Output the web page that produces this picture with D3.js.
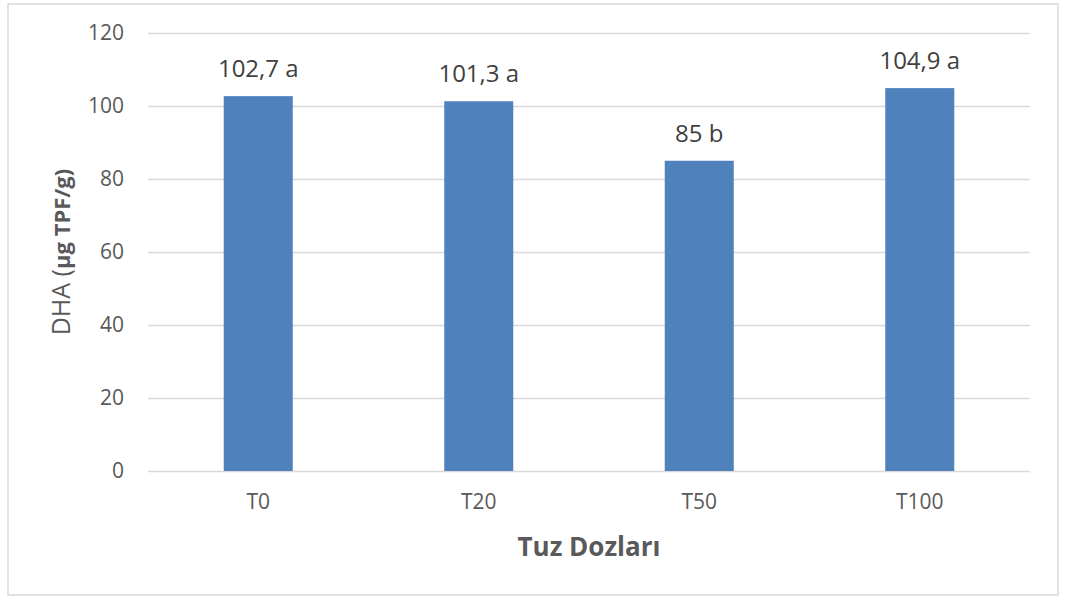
<!DOCTYPE html>
<html>
<head>
<meta charset="utf-8">
<script src="https://cdn.jsdelivr.net/npm/d3@7"></script>
<style>
    body { margin: 0; background: #fff; }
    svg { display: block; font-family: 'Open Sans', sans-serif; }
</style>
</head>
<body>
<div id="chart"></div>
<script>
// data
const categories = ['T0', 'T20', 'T50', 'T100'];
const values = [102.7, 101.3, 85, 104.9];
const letters = ['a', 'a', 'b', 'a'];
const yTicks = [0, 20, 40, 60, 80, 100, 120];

const W = 1070;
const H = 597;
const margin = {t:33, r:40, b:126, l:148};

const svg = d3.select('#chart')
    .append('svg')
    .attr('width', W)
    .attr('height', H);

// outer frame
svg.append('rect')
    .attr('x', 8)
    .attr('y', 4)
    .attr('width', 1050)
    .attr('height', 591)
    .attr('fill', '#fff')
    .attr('stroke', '#d9d9d9')
    .attr('stroke-width', 1.5);

const x = d3.scaleBand()
    .domain(categories)
    .range([margin.l, W - margin.r])
    .paddingInner(0.687)
    .paddingOuter(0.3435);

const y = d3.scaleLinear()
    .domain([0, 120])
    .range([H - margin.b, margin.t]);

// gridlines + y tick labels
const yAxis = svg.append('g')
    .attr('transform', `translate(${margin.l},0)`)
    .call(d3.axisLeft(y)
        .tickValues(yTicks)
        .tickSize(-(W - margin.r - margin.l))
        .tickPadding(24));
yAxis.select('.domain').remove();
yAxis.selectAll('line')
    .attr('stroke', '#d9d9d9')
    .attr('stroke-width', 1.5);
yAxis.selectAll('text')
    .attr('fill', '#595959')
    .style('font-size', '21px')
    .style('font-family', "'Open Sans', sans-serif");

// bars
svg.append('g')
    .selectAll('rect')
    .data(values)
    .join('rect')
    .attr('x', (d, i) => x(categories[i]))
    .attr('y', d => y(d))
    .attr('width', x.bandwidth())
    .attr('height', d => y(0) - y(d))
    .attr('fill', '#4f81bd');

// value labels
svg.append('g')
    .selectAll('text')
    .data(values)
    .join('text')
    .attr('x', (d, i) => x(categories[i]) + x.bandwidth() / 2)
    .attr('y', d => y(d) - 19)
    .attr('text-anchor', 'middle')
    .attr('fill', '#404040')
    .style('font-size', '24px')
    .text((d, i) => String(d).replace('.', ',') + ' ' + letters[i]);

// x tick labels
const xAxis = svg.append('g')
    .attr('transform', `translate(0,${y(0)})`)
    .call(d3.axisBottom(x).tickSize(0).tickPadding(23));
xAxis.select('.domain').remove();
xAxis.selectAll('text')
    .attr('fill', '#595959')
    .style('font-size', '21px')
    .style('font-family', "'Open Sans', sans-serif");

// axis titles
svg.append('text')
    .attr('x', margin.l + (W - margin.r - margin.l) / 2)
    .attr('y', 556)
    .attr('text-anchor', 'middle')
    .attr('fill', '#595959')
    .style('font-size', '26px')
    .style('font-weight', 'bold')
    .text('Tuz Dozları');

const yTitle = svg.append('text')
    .attr('transform', `translate(70,${(y(0) + y(120)) / 2}) rotate(-90)`)
    .attr('text-anchor', 'middle')
    .attr('fill', '#595959')
    .style('font-size', '25px');
yTitle.append('tspan').text('DHA (');
yTitle.append('tspan')
    .style('font-weight', 'bold')
    .style('font-size', '22px')
    .text('µg TPF/g)');
</script>
</body>
</html>
